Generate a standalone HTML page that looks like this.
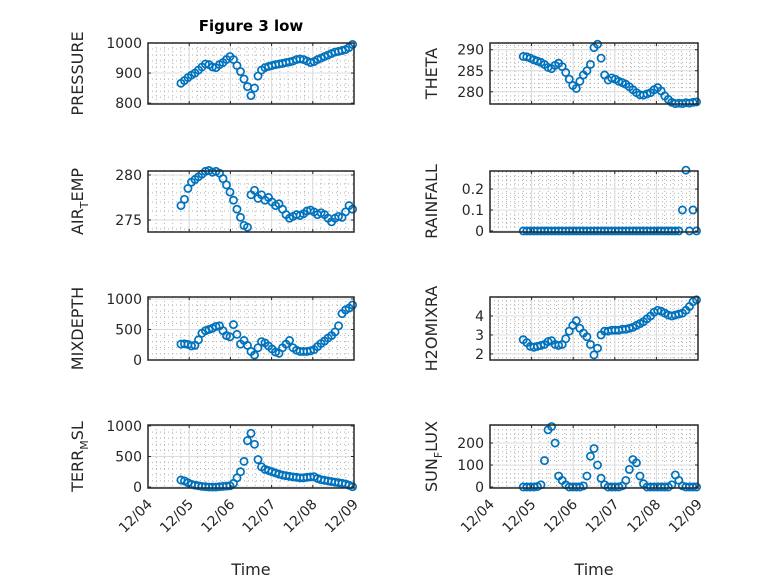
<!DOCTYPE html>
<html><head><meta charset="utf-8"><style>
body{margin:0;background:#fff}
svg{display:block;font-family:"DejaVu Sans","Liberation Sans",sans-serif}
</style></head><body>
<svg id="fig" width="778" height="583" viewBox="0 0 778 583">
<rect width="778" height="583" fill="#fff"/>
<text x="251" y="31" text-anchor="middle" font-size="15" font-weight="bold" fill="#000">Figure 3 low</text>
</svg>
<script>
const days = [];
for (let i = 0; i < 50; i++) days.push(4.8 + i * 0.085);
const pressure = [866,875,885,893,900,910,920,930,928,920,918,928,935,945,955,945,925,905,880,855,825,850,890,910,918,922,925,928,930,932,935,937,940,945,947,945,940,935,938,945,950,955,960,965,970,972,975,978,985,995];
const theta = [288.4,288.3,288,287.6,287.3,287,286.5,285.8,285.5,286.3,286.8,286,284.6,283,281.5,280.8,282.5,284,285,286.5,290.5,291.3,288,284,282.8,283.3,283,282.5,282.2,281.8,281.2,280.5,279.8,279.3,279.2,279.5,279.8,280.5,281,280.2,279,278.2,277.5,277.2,277.3,277.2,277.4,277.3,277.5,277.6];
const airTemp = [276.6,277.3,278.5,279.2,279.5,279.8,280.1,280.4,280.5,280.3,280.4,280.2,279.6,278.9,278.1,277.2,276.2,275.3,274.4,274.2,277.8,278.3,277.4,277.8,277.2,277.5,277,276.6,276.8,276.2,275.6,275.2,275.4,275.6,275.5,275.7,276,276.1,275.9,275.6,275.8,275.6,275.2,274.8,275.2,275.4,275.3,275.9,276.6,276.2];
const rainfall = [0,0,0,0,0,0,0,0,0,0,0,0,0,0,0,0,0,0,0,0,0,0,0,0,0,0,0,0,0,0,0,0,0,0,0,0,0,0,0,0,0,0,0,0,0,0.1,0.29,0,0.1,0];
const mixDepth = [260,265,255,230,240,330,440,480,500,520,550,560,480,400,380,580,420,260,320,240,140,80,200,300,280,230,180,130,110,200,260,320,200,160,140,140,140,150,170,220,270,310,360,400,460,560,760,820,850,900];
const h2oMix = [2.75,2.6,2.4,2.35,2.4,2.45,2.5,2.65,2.7,2.5,2.45,2.5,2.8,3.2,3.5,3.75,3.35,3.1,2.9,2.5,1.95,2.3,3.0,3.2,3.2,3.25,3.25,3.25,3.3,3.3,3.35,3.4,3.5,3.6,3.7,3.85,4.0,4.2,4.3,4.25,4.15,4.05,4.0,4.05,4.1,4.15,4.3,4.5,4.75,4.85];
const terrMsl = [115,100,70,45,30,20,10,5,0,0,0,5,10,15,20,60,150,250,420,760,880,700,450,330,290,270,250,230,210,195,185,175,165,160,150,150,160,165,170,140,120,110,100,90,80,70,60,50,30,5];
const sunFlux = [0,0,0,0,2,10,120,260,275,200,50,30,10,0,0,0,0,5,50,140,175,100,40,10,0,0,0,0,5,30,80,125,110,50,15,0,0,0,0,0,0,0,10,55,30,5,0,0,0,0];
const xTicks = [4,5,6,7,8,9];
const xTickLabels = ["12/04","12/05","12/06","12/07","12/08","12/09"];

const NS = "http://www.w3.org/2000/svg";
const svg = document.getElementById("fig");
function mk(tag, attrs, parent) {
  const e = document.createElementNS(NS, tag);
  for (const k in attrs) e.setAttribute(k, attrs[k]);
  (parent || svg).appendChild(e);
  return e;
}
const panels = [
  {name:"pressure", box:[148,354,43,104], ylim:[797,1000], ticks:[800,900,1000], data:pressure, label:"PRESSURE", lx:83},
  {name:"theta", box:[490,698,43,104], ylim:[277.1,291.6], ticks:[280,285,290], data:theta, label:"THETA", lx:437},
  {name:"air-temp", box:[148,354,171,232], ylim:[273.67,280.44], ticks:[275,280], data:airTemp, label:["AIR","T","EMP"], lx:83},
  {name:"rainfall", box:[490,698,171,232], ylim:[-0.005,0.286], ticks:[0,0.1,0.2], data:rainfall, label:"RAINFALL", lx:437},
  {name:"mixdepth", box:[148,354,297,360], ylim:[0,1032], ticks:[0,500,1000], data:mixDepth, label:"MIXDEPTH", lx:83},
  {name:"h2omixra", box:[490,698,297,360], ylim:[1.68,5], ticks:[2,3,4], data:h2oMix, label:"H2OMIXRA", lx:437},
  {name:"terr-msl", box:[148,354,425,488], ylim:[-16,1016], ticks:[0,500,1000], data:terrMsl, label:["TERR","M","SL"], lx:83, bottom:true},
  {name:"sun-flux", box:[490,698,425,488], ylim:[-4.5,282], ticks:[0,100,200], data:sunFlux, label:["SUN","F","LUX"], lx:437, bottom:true}
];
panels.forEach(p => {
  const [x0,x1,y0,y1] = p.box;
  const g = mk("g", {});
  
  
  const xs = d => x0 + (d - 4) / 5 * (x1 - x0);
  const ys = v => y1 - (v - p.ylim[0]) / (p.ylim[1] - p.ylim[0]) * (y1 - y0);
  mk("rect", {x:x0, y:y0, width:x1-x0, height:y1-y0, fill:"#fff"}, g);
  for (let d = 4; d < 9; d += 0.2) {
    const x = xs(d);
    mk("line", {x1:x, x2:x, y1:y0, y2:y1, stroke:"#b0b0b0", "stroke-width":1, "stroke-dasharray":"1 3"}, g);
  }
  const step = p.ticks[1] - p.ticks[0];
  for (let v = p.ticks[0] - step; v <= p.ylim[1]; v += step / 5) {
    if (v < p.ylim[0]) continue;
    const y = ys(v);
    mk("line", {x1:x0, x2:x1, y1:y, y2:y, stroke:"#b0b0b0", "stroke-width":1, "stroke-dasharray":"1 3"}, g);
  }
  xTicks.forEach(d => { const x = xs(d); mk("line", {x1:x, x2:x, y1:y0, y2:y1, stroke:"#dcdcdc", "stroke-width":1}, g); });
  p.ticks.forEach(v => { const y = ys(v); mk("line", {x1:x0, x2:x1, y1:y, y2:y, stroke:"#dcdcdc", "stroke-width":1}, g); });
  p.data.forEach((v, i) => {
    const c = mk("circle", {cx:xs(days[i]), cy:ys(v), r:3.6, fill:"none", stroke:"#0072BD", "stroke-width":1.7}, g);
    
    
  });
  mk("rect", {x:x0, y:y0, width:x1-x0, height:y1-y0, fill:"none", stroke:"#262626", "stroke-width":1.5}, g);
  xTicks.forEach(d => { const x = xs(d);
    mk("line", {x1:x, x2:x, y1:y1, y2:y1-3, stroke:"#262626"}, g);
    mk("line", {x1:x, x2:x, y1:y0, y2:y0+3, stroke:"#262626"}, g); });
  p.ticks.forEach(v => { const y = ys(v);
    mk("line", {x1:x0, x2:x0+3, y1:y, y2:y, stroke:"#262626"}, g);
    mk("line", {x1:x1, x2:x1-3, y1:y, y2:y, stroke:"#262626"}, g);
    const t = mk("text", {x:x0-6, y:y+5, "text-anchor":"end", "font-size":14, fill:"#262626"}, g);
    t.textContent = String(v);
    
    
  });
  if (p.bottom) {
    xTicks.forEach((d, i) => {
      const x = xs(d);
      const t = mk("text", {x:x+5, y:y1+17, "text-anchor":"end", "font-size":14, fill:"#262626", transform:`rotate(-45 ${x+5} ${y1+17})`}, g);
      t.textContent = xTickLabels[i];
      
      
    });
    const xt = mk("text", {x:(x0+x1)/2, y:575, "text-anchor":"middle", "font-size":16, fill:"#262626"}, g);
    xt.textContent = "Time";
    
    
  }
  const cy = (y0 + y1) / 2;
  const yl = mk("text", {x:p.lx, y:cy, "text-anchor":"middle", "font-size":16, fill:"#262626", transform:`rotate(-90 ${p.lx} ${cy})`}, g);
  
  
  if (Array.isArray(p.label)) {
    const a = mk("tspan", {}, yl); a.textContent = p.label[0];
    const b = mk("tspan", {"font-size":11, dy:5}, yl); b.textContent = p.label[1];
    const c = mk("tspan", {dy:-5}, yl); c.textContent = p.label[2];
  } else yl.textContent = p.label;
});
</script>
</body></html>
